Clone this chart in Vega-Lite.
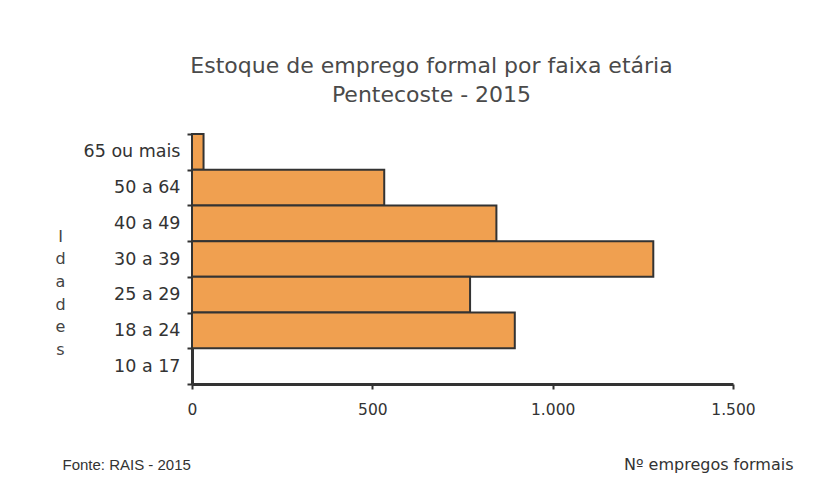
{
  "$schema": "https://vega.github.io/schema/vega-lite/v6.json",
  "width": 541,
  "height": 250,
  "autosize": "none",
  "padding": {"left": 192, "top": 134, "right": 93, "bottom": 107},
  "background": "white",
  "config": {
    "view": {"stroke": null},
    "font": "DejaVu Sans"
  },
  "title": {
    "text": ["Estoque de emprego formal por faixa etária", "Pentecoste - 2015"],
    "font": "DejaVu Sans",
    "fontSize": 22,
    "fontWeight": "normal",
    "color": "#4a4a4a",
    "lineHeight": 29,
    "anchor": "middle",
    "frame": "group",
    "dx": -31,
    "offset": 18
  },
  "layer": [
    {
      "data": {
        "values": [
          {"faixa": "65 ou mais", "empregos": 32},
          {"faixa": "50 a 64", "empregos": 533},
          {"faixa": "40 a 49", "empregos": 844},
          {"faixa": "30 a 39", "empregos": 1279},
          {"faixa": "25 a 29", "empregos": 771},
          {"faixa": "18 a 24", "empregos": 895},
          {"faixa": "10 a 17", "empregos": 0}
        ]
      },
      "mark": {"type": "bar", "fill": "#F0A050", "stroke": "#333333", "strokeWidth": 2},
      "encoding": {
        "y": {
          "field": "faixa",
          "type": "nominal",
          "sort": null,
          "scale": {"paddingInner": 0, "paddingOuter": 0},
          "axis": {
            "title": ["I", "d", "a", "d", "e", "s"],
            "titleAngle": 0,
            "titleX": -132,
            "titleY": 94,
            "titleAlign": "center",
            "titleBaseline": "top",
            "titleLineHeight": 22.7,
            "titleFont": "DejaVu Sans",
            "titleFontSize": 16,
            "titleFontWeight": "normal",
            "titleColor": "#444444",
            "labelFont": "DejaVu Sans",
            "labelFontSize": 17.5,
            "labelColor": "#333333",
            "labelPadding": 7,
            "tickBand": "extent",
            "tickSize": 5,
            "tickWidth": 2,
            "tickColor": "#333333",
            "domainColor": "#333333",
            "domainWidth": 3
          }
        },
        "x": {
          "field": "empregos",
          "type": "quantitative",
          "scale": {"domain": [0, 1500], "nice": false},
          "axis": {
            "values": [0, 500, 1000, 1500],
            "labelExpr": "replace(format(datum.value, ','), ',', '.')",
            "labelFlush": false,
            "grid": false,
            "title": "Nº empregos formais",
            "titleX": 601,
            "titleY": 85,
            "titleAlign": "right",
            "titleBaseline": "alphabetic",
            "titleFont": "DejaVu Sans",
            "titleFontSize": 16,
            "titleFontWeight": "normal",
            "titleColor": "#333333",
            "labelFont": "DejaVu Sans",
            "labelFontSize": 15.5,
            "labelColor": "#333333",
            "labelPadding": 13,
            "tickSize": 5,
            "tickWidth": 2,
            "tickColor": "#333333",
            "domainColor": "#333333",
            "domainWidth": 3
          }
        }
      }
    },
    {
      "data": {"values": [{"v": 0}]},
      "mark": {"type": "rule", "opacity": 0},
      "encoding": {
        "x": {
          "field": "v",
          "type": "quantitative",
          "axis": {
            "orient": "top",
            "labels": false,
            "ticks": false,
            "domain": false,
            "grid": false,
            "title": "Fonte: RAIS - 2015",
            "titleX": -130,
            "titleY": 335,
            "titleAlign": "left",
            "titleBaseline": "alphabetic",
            "titleFont": "Liberation Sans",
            "titleFontSize": 15,
            "titleFontWeight": "normal",
            "titleColor": "#333333"
          }
        }
      }
    }
  ],
  "resolve": {"axis": {"x": "independent"}}
}
